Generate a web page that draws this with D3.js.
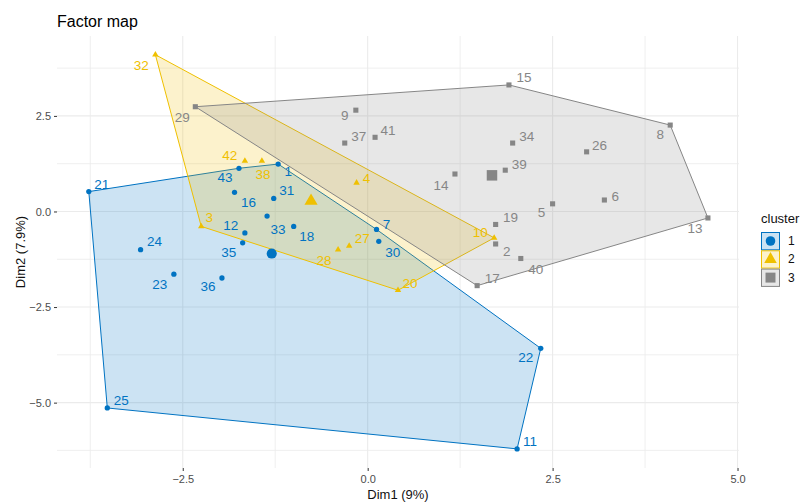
<!DOCTYPE html>
<html>
<head>
<meta charset="utf-8">
<script src="https://cdn.jsdelivr.net/npm/d3@7"></script>
<style>
  body { margin: 0; background: #fff; }
  svg { font-family: "Liberation Sans", Arial, sans-serif; }
</style>
</head>
<body>
<div id="chart"></div>
<script>
// individuals on the first two dimensions
const pointIds = [1,2,3,4,5,6,7,8,9,10,11,12,13,14,15,16,17,18,19,20,21,22,23,24,25,26,27,28,29,30,31,32,33,34,35,36,37,38,39,40,41,42,43];
const dim1 = [-1.21,1.73,-2.25,-0.15,2.50,3.20,0.12,4.09,-0.16,1.71,2.02,-1.66,4.60,1.18,1.91,-1.80,1.48,-1.00,1.73,0.41,-3.77,2.34,-2.62,-3.07,-3.52,2.96,-0.25,-0.40,-2.33,0.15,-1.27,-2.87,-1.36,1.96,-1.69,-1.97,-0.31,-1.43,1.86,2.07,0.10,-1.66,-1.74];
const dim2 = [1.24,-0.85,-0.39,0.75,0.20,0.30,-0.47,2.26,2.65,-0.69,-6.21,-0.56,-0.17,0.98,3.31,0.50,-1.94,-0.39,-0.34,-2.06,0.52,-3.58,-1.64,-1.00,-5.14,1.56,-0.90,-1.00,2.74,-0.78,0.34,4.10,-0.12,1.79,-0.82,-1.74,1.79,1.32,1.08,-1.23,1.94,1.32,1.13];
const clusterOf = [1,3,2,2,3,3,1,3,3,2,1,1,3,3,3,1,3,1,3,2,1,1,1,1,1,3,2,2,3,1,1,2,1,3,1,1,3,2,3,3,3,2,1];

const clusters = [1, 2, 3];
const xTicks = [-2.5, 0, 2.5, 5];
const yTicks = [-5, -2.5, 0, 2.5];

// label nudges (px) so the text sits like in the original plot
const labelOffset = {
  1:[10,7],2:[11,8],3:[8,-9],4:[10,-4],5:[-11,9],6:[11,-4],7:[10,-5],8:[-10,9],9:[-11,5],10:[-14,-5],
  11:[13,-7],12:[-14,-7],13:[-13,11],14:[-14,11],15:[15,-7],16:[14,10],17:[15,-7],18:[13,10],19:[15,-7],20:[12,-7],
  21:[13,-7],22:[-15,9],23:[-14,10],24:[14,-8],25:[14,-7],26:[13,-6],27:[13,-7],28:[-14,11],29:[-13,11],30:[14,11],
  31:[13,-8],32:[-14,11],33:[11,13],34:[14,-7],35:[-14,10],36:[-14,9],37:[14,-7],38:[1,13],39:[14,-6],40:[15,11],
  41:[13,-7],42:[-15,-6],43:[-14,9]
};

const colors = { 1: "#0073C2", 2: "#EFC000", 3: "#868686" };
const shapes = { 1: d3.symbolCircle, 2: d3.symbolTriangle, 3: d3.symbolSquare };
const sizes = { 1: 22, 2: 18, 3: 26 };
const bigSizes = { 1: 80, 2: 75, 3: 110 };

const W = 811, H = 502;
const x = d3.scaleLinear().domain([-4.2, 5.02]).range([57, 739]);
const y = d3.scaleLinear().domain([-6.71, 4.59]).range([468, 36]);

const svg = d3.select("#chart").append("svg")
  .attr("width", W).attr("height", H);

const points = pointIds.map((id, i) => ({ id: id, d1: dim1[i], d2: dim2[i], c: clusterOf[i] }));

// grid
const grid = svg.append("g");
const xMinor = [-3.75, -1.25, 1.25, 3.75];
const yMinor = [-6.25, -3.75, -1.25, 1.25, 3.75];
grid.selectAll(".vx").data(xTicks.concat(xMinor)).enter().append("line")
  .attr("x1", d => x(d)).attr("x2", d => x(d))
  .attr("y1", y.range()[1]).attr("y2", y.range()[0])
  .attr("stroke", "#ebebeb").attr("stroke-width", d => xTicks.includes(d) ? 1.1 : 0.8);
grid.selectAll(".hy").data(yTicks.concat(yMinor)).enter().append("line")
  .attr("y1", d => y(d)).attr("y2", d => y(d))
  .attr("x1", x.range()[0]).attr("x2", x.range()[1])
  .attr("stroke", "#ebebeb").attr("stroke-width", d => yTicks.includes(d) ? 1.1 : 0.8);

// hulls
const hullG = svg.append("g");
clusters.forEach(c => {
  const pts = points.filter(p => p.c === c).map(p => [x(p.d1), y(p.d2)]);
  const hull = d3.polygonHull(pts);
  hullG.append("path")
    .attr("d", "M" + hull.join("L") + "Z")
    .attr("fill", colors[c]).attr("fill-opacity", 0.2)
    .attr("stroke", colors[c]).attr("stroke-width", 1);
});

// points
svg.append("g").selectAll("path").data(points).enter().append("path")
  .attr("transform", d => `translate(${x(d.d1)},${y(d.d2)})`)
  .attr("d", d => d3.symbol().type(shapes[d.c]).size(sizes[d.c])())
  .attr("fill", d => colors[d.c]);

// cluster centers
clusters.forEach(c => {
  const pts = points.filter(p => p.c === c);
  const cx = d3.mean(pts, p => p.d1), cy = d3.mean(pts, p => p.d2);
  svg.append("path")
    .attr("transform", `translate(${x(cx)},${y(cy)})`)
    .attr("d", d3.symbol().type(shapes[c]).size(bigSizes[c])())
    .attr("fill", colors[c]);
});

// labels
svg.append("g").selectAll("text").data(points).enter().append("text")
  .attr("x", d => x(d.d1) + labelOffset[d.id][0])
  .attr("y", d => y(d.d2) + labelOffset[d.id][1])
  .attr("text-anchor", "middle").attr("dominant-baseline", "central")
  .attr("font-size", 13.5)
  .attr("fill", d => colors[d.c])
  .text(d => d.id);

// axes
const xAxis = svg.append("g").attr("transform", `translate(0,${y.range()[0]})`)
  .call(d3.axisBottom(x).tickValues(xTicks).tickFormat(d3.format(".1f")).tickSize(3).tickPadding(4));
const yAxis = svg.append("g").attr("transform", `translate(${x.range()[0]},0)`)
  .call(d3.axisLeft(y).tickValues(yTicks).tickFormat(d3.format(".1f")).tickSize(3).tickPadding(3));
[xAxis, yAxis].forEach(a => {
  a.select(".domain").remove();
  a.selectAll(".tick line").attr("stroke", "#333");
  a.selectAll(".tick text").attr("fill", "#4d4d4d").attr("font-size", 11)
    .attr("font-family", "Liberation Sans, Arial, sans-serif");
});
yAxis.selectAll(".tick text").text(d => d3.format(".1f")(d).replace("-", "-"));
xAxis.selectAll(".tick text").text(d => d3.format(".1f")(d).replace("-", "-"));

svg.append("text").attr("x", (x.range()[0] + x.range()[1]) / 2).attr("y", 494)
  .attr("text-anchor", "middle").attr("dominant-baseline", "central")
  .attr("font-size", 13).attr("fill", "#111").text("Dim1 (9%)");
svg.append("text")
  .attr("transform", `translate(20,${(y.range()[0] + y.range()[1]) / 2}) rotate(-90)`)
  .attr("text-anchor", "middle").attr("dominant-baseline", "central")
  .attr("font-size", 13).attr("fill", "#111").text("Dim2 (7.9%)");

svg.append("text").attr("x", 57).attr("y", 27)
  .attr("font-size", 16).attr("fill", "#000").text("Factor map");

// legend
const leg = svg.append("g").attr("transform", "translate(761,0)");
leg.append("text").attr("x", 0).attr("y", 218).attr("dominant-baseline", "central")
  .attr("font-size", 13).attr("fill", "#111").text("cluster");
clusters.forEach((c, i) => {
  const ky = 232 + i * 18.3;
  const k = leg.append("g").attr("transform", `translate(0,${ky})`);
  k.append("rect").attr("x", 0.5).attr("y", 0.5).attr("width", 18).attr("height", 17.3)
    .attr("fill", colors[c]).attr("fill-opacity", 0.2)
    .attr("stroke", colors[c]).attr("stroke-width", 1);
  k.append("text").attr("x", 9.5).attr("y", 13).attr("text-anchor", "middle")
    .attr("font-size", 10).attr("fill", colors[c]).attr("fill-opacity", 0.5).text("a");
  k.append("path").attr("transform", "translate(9.5,9)")
    .attr("d", d3.symbol().type(shapes[c]).size(bigSizes[c] * 0.9)())
    .attr("fill", colors[c]);
  k.append("text").attr("x", 27).attr("y", 9).attr("dominant-baseline", "central")
    .attr("font-size", 12).attr("fill", "#111").text(c);
});
</script>
</body>
</html>
